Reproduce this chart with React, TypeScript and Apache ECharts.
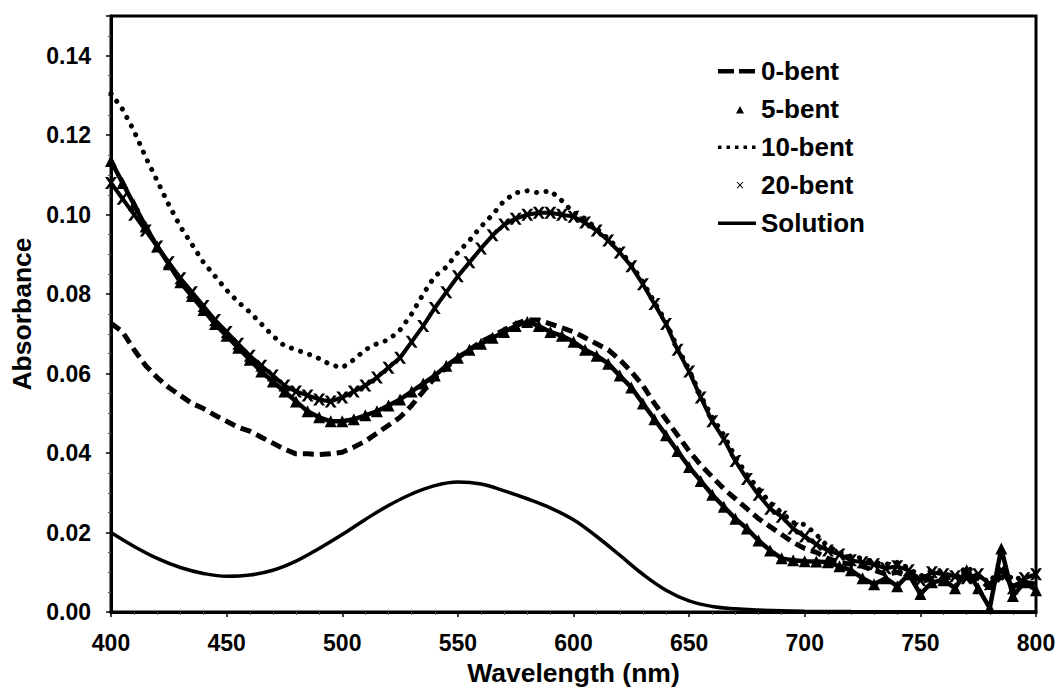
import React, { useEffect, useRef } from "react";
import * as echarts from "echarts";

// Wavelength grid (nm) for the measured film spectra
const wavelength = [
  400, 405, 410, 415, 420, 425, 430, 435, 440, 445,
  450, 455, 460, 465, 470, 475, 480, 485, 490, 495,
  500, 505, 510, 515, 520, 525, 530, 535, 540, 545,
  550, 555, 560, 565, 570, 575, 580, 585, 590, 595,
  600, 605, 610, 615, 620, 625, 630, 635, 640, 645,
  650, 655, 660, 665, 670, 675, 680, 685, 690, 695,
  700, 705, 710, 715, 720, 725, 730, 735, 740, 745,
  750, 755, 760, 765, 770, 775, 780, 785, 790, 795,
  800,
];

const bent0 = [
  0.0727, 0.0705, 0.066, 0.062, 0.059, 0.0565, 0.0545, 0.0525, 0.0512, 0.0495,
  0.048, 0.0465, 0.0455, 0.044, 0.0425, 0.041, 0.0398, 0.0398, 0.0396, 0.0398,
  0.0402, 0.0415, 0.043, 0.045, 0.047, 0.049, 0.052, 0.0555, 0.059, 0.0615,
  0.064, 0.066, 0.068, 0.0695, 0.071, 0.0725, 0.0735, 0.0735, 0.0725, 0.0715,
  0.0705, 0.069, 0.0675, 0.066, 0.0635, 0.0605, 0.057, 0.0525, 0.0485, 0.0445,
  0.0405, 0.037, 0.034, 0.031, 0.0285, 0.026, 0.0235, 0.0215, 0.0195, 0.0175,
  0.016, 0.015, 0.0135, 0.0125, 0.012, 0.0115, 0.0105, 0.0095, 0.01, 0.009,
  0.0075, 0.0085, 0.008, 0.0095, 0.0075, 0.0085, 0.006, 0.009, 0.0065, 0.0075,
  0.007,
];

const bent5 = [
  0.1135, 0.108, 0.1025, 0.097, 0.092, 0.0875, 0.083, 0.0795, 0.076, 0.0725,
  0.0695, 0.0665, 0.0635, 0.0605, 0.058, 0.0555, 0.053, 0.0505, 0.049, 0.048,
  0.048, 0.0485, 0.0495, 0.0505, 0.052, 0.0535, 0.0555, 0.0575, 0.0595, 0.062,
  0.064, 0.066, 0.0675, 0.069, 0.0705, 0.072, 0.073, 0.072, 0.0705, 0.0695,
  0.068, 0.066, 0.0645, 0.0625, 0.0595, 0.0565, 0.0525, 0.0485, 0.0445, 0.0405,
  0.0365, 0.033, 0.0295, 0.0265, 0.0235, 0.021, 0.018, 0.0155, 0.0135, 0.013,
  0.0128, 0.0127, 0.0125, 0.0115, 0.0105, 0.0085, 0.007, 0.0085, 0.0065, 0.0095,
  0.0045, 0.0075, 0.008, 0.006, 0.0105, 0.006, 0.001, 0.016, 0.004, 0.0075,
  0.0055,
];

const bent10 = [
  0.1305, 0.1265, 0.121, 0.1145, 0.1085, 0.1025, 0.097, 0.0925, 0.088, 0.0845,
  0.081, 0.078, 0.0755, 0.0725, 0.0695, 0.067, 0.066, 0.065, 0.0638, 0.0622,
  0.0615, 0.0635, 0.066, 0.0675, 0.0685, 0.071, 0.075, 0.08, 0.0845, 0.0868,
  0.0905, 0.0935, 0.097, 0.1, 0.1035, 0.1055, 0.106, 0.1055, 0.106, 0.1035,
  0.1005, 0.099, 0.0965, 0.094, 0.091, 0.0875, 0.083, 0.078, 0.073, 0.0665,
  0.061, 0.0545, 0.049, 0.0445, 0.039, 0.0345, 0.031, 0.0275, 0.025, 0.0225,
  0.022, 0.0195, 0.0165, 0.015, 0.014, 0.0135, 0.0125, 0.012, 0.0125, 0.011,
  0.009, 0.0105, 0.01, 0.0085, 0.0115, 0.009, 0.0075, 0.0115, 0.008, 0.009,
  0.0085,
];

const bent20 = [
  0.108, 0.104, 0.1, 0.096, 0.092, 0.088, 0.084, 0.0805, 0.077, 0.0735,
  0.0705, 0.0675, 0.0645, 0.062, 0.0595, 0.057, 0.0555, 0.0545, 0.0535, 0.053,
  0.054, 0.0555, 0.057, 0.059, 0.0615, 0.064, 0.068, 0.072, 0.0765, 0.0805,
  0.0845, 0.088, 0.0915, 0.0948, 0.0975, 0.099, 0.1, 0.1005, 0.1005, 0.1,
  0.0995, 0.098, 0.096, 0.0935, 0.0905, 0.087, 0.0825, 0.0775, 0.0725, 0.066,
  0.0605, 0.054, 0.048, 0.0435, 0.038, 0.0335, 0.0295, 0.026, 0.024, 0.021,
  0.019, 0.017, 0.0155, 0.0145, 0.013, 0.0125, 0.012, 0.011, 0.0115, 0.0105,
  0.008, 0.01, 0.0095, 0.009, 0.0085, 0.0095, 0.007, 0.0105, 0.006, 0.0085,
  0.0095,
];

// Solution spectrum (smooth curve)
const solutionWavelength = [
  400, 410, 420, 430, 440, 450, 460, 470, 480, 490,
  500, 510, 520, 530, 540, 550, 560, 570, 580, 590,
  600, 610, 620, 630, 640, 650, 660, 670, 680, 690,
  700, 720, 750, 800,
];
const solution = [
  0.02, 0.0165, 0.0135, 0.0112, 0.0097, 0.009, 0.0093, 0.0105, 0.0128, 0.016,
  0.0195, 0.0233, 0.0268, 0.0297, 0.0318, 0.0327, 0.0322, 0.0305, 0.0285, 0.0262,
  0.0232, 0.019, 0.0143, 0.0095, 0.0055, 0.0028, 0.0014, 0.0008, 0.0005, 0.0003,
  0.0002, 0.0001, 0.00005, 0,
];

const seriesNames = ["0-bent", "5-bent", "10-bent", "20-bent", "Solution"];

const zip = (xs: number[], ys: number[]) => xs.map((x, i) => [x, ys[i]]);

// Legend icons (tiny corner squares fix the icon box to 38x14)
const corners = "M0,0h0.05v0.05h-0.05z M37.95,13.95h0.05v0.05h-0.05z ";
const iconDash = "path://" + corners + "M0,5h16v4.5h-16z M21,5h16v4.5h-16z";
const iconTri = "path://" + corners + "M18,11.5 L22,4 L26,11.5 Z";
const iconDots =
  "path://" +
  corners +
  "M0,5.5h3.5v3.5h-3.5z M8.5,5.5h3.5v3.5h-3.5z M17,5.5h3.5v3.5h-3.5z M25.5,5.5h3.5v3.5h-3.5z M34,5.5h3.5v3.5h-3.5z";
const iconCross =
  "path://" +
  corners +
  "M18.5,4 L19.8,4 L22,6.4 L24.2,4 L25.5,4 L22.7,7.1 L25.5,10.2 L24.2,10.2 L22,7.8 L19.8,10.2 L18.5,10.2 L21.3,7.1 Z";
const iconSolid = "path://" + corners + "M0,5.5h38v3.5h-38z";

const crossSymbol =
  "path://M0,0 L2.6,0 L5,3.1 L7.4,0 L10,0 L6.4,4.8 L10,9.6 L7.4,9.6 L5,6.5 L2.6,9.6 L0,9.6 L3.6,4.8 Z";

const FONT = "Arial, 'Liberation Sans', Helvetica, sans-serif";

export default function App() {
  const ref = useRef<HTMLDivElement>(null);

  useEffect(() => {
    if (!ref.current) return;
    const chart = echarts.init(ref.current, undefined, { renderer: "svg" });
    const black = "#000";
    chart.setOption({
      animation: false,
      backgroundColor: "#fff",
      textStyle: { fontFamily: FONT },
      grid: {
        left: 111,
        right: 24,
        top: 16,
        bottom: 83,
        show: true,
        borderColor: black,
        borderWidth: 3,
        containLabel: false,
      },
      legend: {
        orient: "vertical",
        left: 718,
        top: 58,
        padding: 0,
        itemWidth: 38,
        itemHeight: 14,
        itemGap: 12,
        textStyle: {
          fontFamily: FONT,
          fontWeight: "bold",
          fontSize: 26,
          lineHeight: 26,
          color: black,
        },
        data: [
          { name: seriesNames[0], icon: iconDash },
          { name: seriesNames[1], icon: iconTri },
          { name: seriesNames[2], icon: iconDots },
          { name: seriesNames[3], icon: iconCross },
          { name: seriesNames[4], icon: iconSolid },
        ],
      },
      xAxis: {
        type: "value",
        min: 400,
        max: 800,
        interval: 50,
        name: "Wavelength (nm)",
        nameLocation: "middle",
        nameGap: 47,
        nameTextStyle: {
          fontFamily: FONT,
          fontWeight: "bold",
          fontSize: 26.5,
          color: black,
        },
        axisLine: { lineStyle: { color: black, width: 3 } },
        axisTick: { show: true, length: 5, lineStyle: { color: black, width: 1.5 } },
        minorTick: { show: true, splitNumber: 5, length: 3, lineStyle: { color: "#555", width: 1 } },
        splitLine: { show: false },
        axisLabel: {
          margin: 19,
          fontFamily: FONT,
          fontWeight: "bold",
          fontSize: 23,
          color: black,
        },
      },
      yAxis: {
        type: "value",
        min: 0,
        max: 0.15,
        interval: 0.02,
        name: "Absorbance",
        nameLocation: "middle",
        nameGap: 72,
        nameRotate: 90,
        nameTextStyle: {
          fontFamily: FONT,
          fontWeight: "bold",
          fontSize: 26.5,
          color: black,
        },
        axisLine: { lineStyle: { color: black, width: 3 } },
        axisTick: { show: true, length: 5, lineStyle: { color: black, width: 1.5 } },
        minorTick: { show: true, splitNumber: 4, length: 3, lineStyle: { color: "#555", width: 1 } },
        splitLine: { show: false },
        axisLabel: {
          margin: 20,
          showMaxLabel: false,
          fontFamily: FONT,
          fontWeight: "bold",
          fontSize: 23,
          color: black,
          formatter: (v: number) => v.toFixed(2),
        },
      },
      series: [
        {
          name: seriesNames[0],
          type: "line",
          data: zip(wavelength, bent0),
          showSymbol: false,
          color: black,
          lineStyle: { color: black, width: 5, type: [11, 6] },
          z: 3,
        },
        {
          name: seriesNames[1],
          type: "line",
          data: zip(wavelength, bent5),
          symbol: "triangle",
          symbolSize: 12,
          showAllSymbol: true,
          color: black,
          itemStyle: { color: black },
          lineStyle: { color: black, width: 4.5 },
          z: 4,
        },
        {
          name: seriesNames[2],
          type: "line",
          data: zip(wavelength, bent10),
          showSymbol: false,
          color: black,
          lineStyle: { color: black, width: 5, type: [0.1, 9.5], cap: "round" },
          z: 3,
        },
        {
          name: seriesNames[3],
          type: "line",
          data: zip(wavelength, bent20),
          symbol: crossSymbol,
          symbolSize: 12,
          showAllSymbol: true,
          color: black,
          itemStyle: { color: black },
          lineStyle: { color: black, width: 4 },
          z: 4,
        },
        {
          name: seriesNames[4],
          type: "line",
          data: zip(solutionWavelength, solution),
          showSymbol: false,
          smooth: 0.4,
          color: black,
          lineStyle: { color: black, width: 3.5 },
          z: 5,
        },
      ],
    });
    return () => chart.dispose();
  }, []);

  return (
    <div
      ref={ref}
      style={{ position: "fixed", left: 0, top: 0, width: 1060, height: 695, background: "#fff" }}
    />
  );
}
